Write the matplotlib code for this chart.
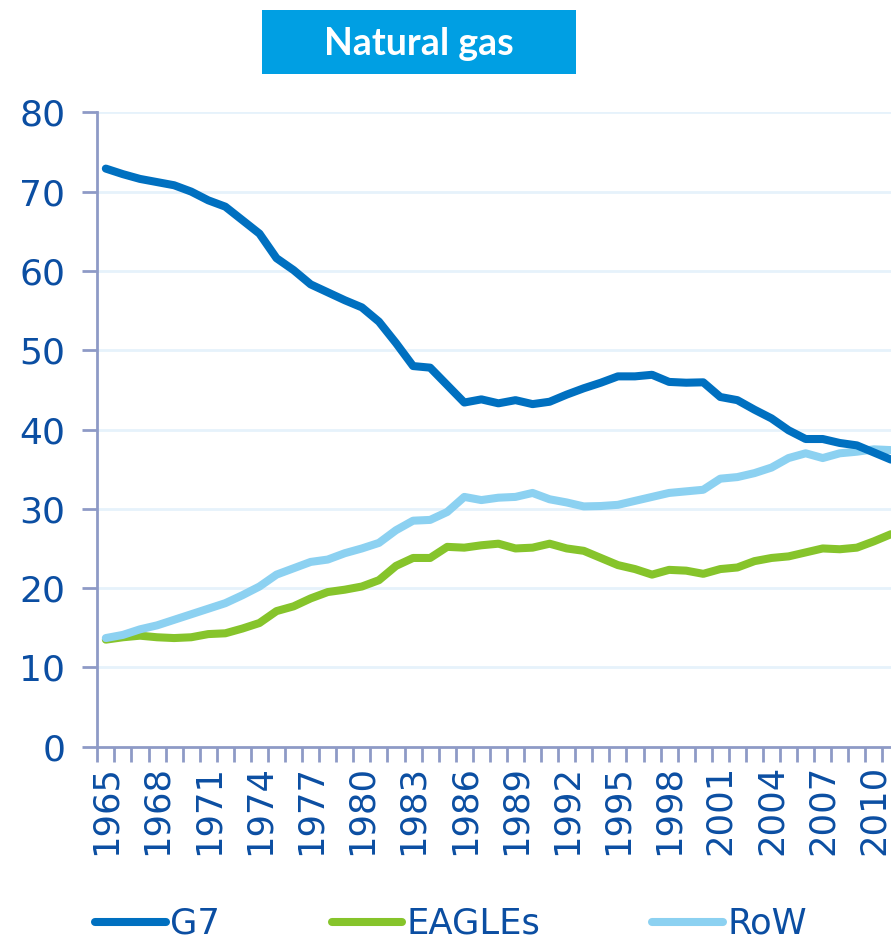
import numpy as np
import matplotlib
matplotlib.use("Agg")
import matplotlib.pyplot as plt
from matplotlib.patches import Rectangle

# share of world natural gas consumption, %
years = list(range(1965, 2012))

g7 = [72.9, 72.2, 71.6, 71.2, 70.8, 70.0, 68.9, 68.1, 66.4, 64.7,
      61.6, 60.1, 58.3, 57.3, 56.3, 55.4, 53.6, 50.9, 48.0, 47.8,
      45.6, 43.4, 43.8, 43.3, 43.7, 43.2, 43.5, 44.4, 45.2, 45.9,
      46.7, 46.7, 46.9, 46.0, 45.9, 45.95, 44.1, 43.7, 42.5, 41.4,
      39.9, 38.8, 38.8, 38.3, 38.0, 37.1, 36.2]

eagles = [13.5, 13.8, 14.0, 13.8, 13.7, 13.8, 14.2, 14.3, 14.9, 15.6,
          17.1, 17.7, 18.7, 19.5, 19.8, 20.2, 21.0, 22.8, 23.8, 23.8,
          25.2, 25.1, 25.4, 25.6, 25.0, 25.1, 25.6, 25.0, 24.7, 23.8,
          22.9, 22.4, 21.7, 22.3, 22.2, 21.8, 22.4, 22.6, 23.4, 23.8,
          24.0, 24.5, 25.0, 24.9, 25.1, 25.9, 26.8]

row = [13.7, 14.1, 14.8, 15.3, 16.0, 16.7, 17.4, 18.1, 19.1, 20.2,
       21.7, 22.5, 23.3, 23.6, 24.4, 25.0, 25.7, 27.3, 28.5, 28.6,
       29.6, 31.5, 31.1, 31.4, 31.5, 32.0, 31.2, 30.8, 30.3, 30.35,
       30.5, 31.0, 31.5, 32.0, 32.2, 32.4, 33.8, 34.0, 34.5, 35.2,
       36.4, 37.0, 36.4, 37.0, 37.2, 37.5, 37.4]

series_names = ["G7", "EAGLEs", "RoW"]
tick_years = years[::3]
y_ticks = [0, 10, 20, 30, 40, 50, 60, 70, 80]

c_g7 = "#0070C0"
c_eagles = "#86C42B"
c_row = "#8CD1F1"
c_text = "#0B4EA2"
c_axis = "#8E9AC6"
c_grid = "#E6F2FB"

fig = plt.figure(figsize=(8.91, 9.44), dpi=100)
ax = fig.add_axes([97.3/891, 197.3/944, 1 - 97.3/891, (746.7-112.3)/944])

for v in y_ticks[1:]:
    ax.axhline(v, color=c_grid, lw=2, zorder=0)

ax.plot(years, g7, color=c_g7, lw=5.8, solid_capstyle='round', label=series_names[0], zorder=3)
ax.plot(years, eagles, color=c_eagles, lw=5.8, solid_capstyle='round', label=series_names[1], zorder=2)
ax.plot(years, row, color=c_row, lw=5.8, solid_capstyle='round', label=series_names[2], zorder=2)

ax.set_xlim(1964.5, 2011)
ax.set_ylim(0, 80)

ax.set_yticks(y_ticks)
ax.set_yticklabels([str(v) for v in y_ticks])
ax.set_xticks(tick_years)
ax.set_xticklabels([str(y) for y in tick_years], rotation=90)
ax.set_xticks(np.arange(1964.5, 2011.5, 1.0), minor=True)

ax.tick_params(axis='y', length=11, width=2, color=c_axis, direction='out',
               labelsize=26, labelcolor=c_text, pad=12)
ax.tick_params(axis='x', which='major', length=0, labelsize=25.5, labelcolor=c_text, pad=13)
ax.tick_params(axis='x', which='minor', length=11, width=2, color=c_axis, direction='out')

for s in ['top', 'right']:
    ax.spines[s].set_visible(False)
for s in ['left', 'bottom']:
    ax.spines[s].set_color(c_axis)
    ax.spines[s].set_linewidth(2)

leg = fig.legend(loc='center left', bbox_to_anchor=(95/891, 20/944), ncol=3,
                 frameon=False, fontsize=25.5, handlelength=2.0, handletextpad=0.12,
                 columnspacing=3.15, borderpad=0, borderaxespad=0)
for t in leg.get_texts():
    t.set_color(c_text)

# title box
fig.patches.append(Rectangle((262/891, 1 - 74/944), (576-262)/891, 64/944,
                             transform=fig.transFigure, facecolor="#009FE3",
                             edgecolor='none', zorder=5))
fig.text(419/891, 1 - 44/944, "Natural gas", color='white', fontsize=27,
         fontweight='bold', family='Lato', ha='center', va='center', zorder=6)

fig.savefig("out.png", dpi=100)
